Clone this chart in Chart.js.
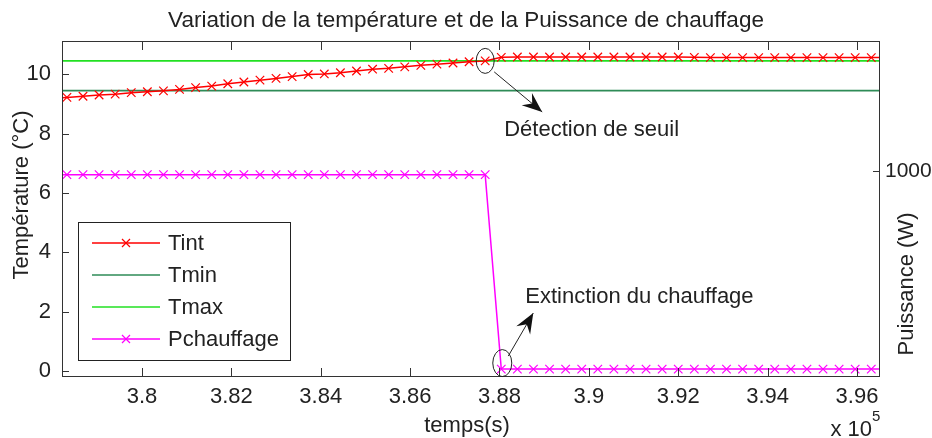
<!DOCTYPE html>
<html><head><meta charset="utf-8">
<script src="https://cdn.jsdelivr.net/npm/chart.js@4/dist/chart.umd.min.js"></script>
<style>html,body{margin:0;padding:0;background:#fff;}#wrap{width:932px;height:438px;}</style>
</head><body><div id="wrap"><canvas id="c" width="932" height="438"></canvas></div>
<script>
// ---- data (time in seconds) ----
const timeS = [377960, 378320, 378680, 379040, 379400, 379760, 380120, 380480, 380840, 381200,
  381560, 381920, 382280, 382640, 383000, 383360, 383720, 384080, 384440, 384800,
  385160, 385520, 385880, 386240, 386600, 386960, 387320, 387680, 388040, 388400,
  388760, 389120, 389480, 389840, 390200, 390560, 390920, 391280, 391640, 392000,
  392360, 392720, 393080, 393440, 393800, 394160, 394520, 394880, 395240, 395600,
  395960, 396320, 396680];
const tint = [9.19, 9.22, 9.26, 9.30, 9.33, 9.38, 9.41, 9.44, 9.49, 9.55,
  9.60, 9.68, 9.74, 9.80, 9.86, 9.92, 9.99, 10.01, 10.05, 10.11,
  10.17, 10.20, 10.25, 10.30, 10.34, 10.38, 10.42, 10.45, 10.57, 10.58,
  10.58, 10.58, 10.58, 10.58, 10.58, 10.58, 10.58, 10.58, 10.58, 10.58,
  10.57, 10.56, 10.56, 10.56, 10.56, 10.56, 10.56, 10.56, 10.56, 10.56,
  10.56, 10.56, 10.56];
const pchauffage = [980, 980, 980, 980, 980, 980, 980, 980, 980, 980,
  980, 980, 980, 980, 980, 980, 980, 980, 980, 980,
  980, 980, 980, 980, 980, 980, 980, 980, 0, 0,
  0, 0, 0, 0, 0, 0, 0, 0, 0, 0,
  0, 0, 0, 0, 0, 0, 0, 0, 0, 0,
  0, 0, 0];
const tminLevel = 9.45;
const tmaxLevel = 10.45;
const xTicks = [380000, 382000, 384000, 386000, 388000, 390000, 392000, 394000, 396000];
const yTicks = [0, 2, 4, 6, 8, 10];
const pTicks = [1000];
const seriesNames = ['Tint', 'Tmin', 'Tmax', 'Pchauffage'];
const detectIndex = 27;   // threshold detection point
const offIndex = 28;      // heating switched off

const FONT = "'Liberation Sans', Arial, Helvetica, sans-serif";
const TXT = '#222';
const colors = { tint: '#ff0000', tmin: '#2e8b57', tmax: '#22e022', p: '#ff00ff' };

const pts = (ys) => timeS.map((t, i) => ({ x: t, y: ys[i] }));
const flat = (v) => timeS.map(t => ({ x: t, y: v }));

function drawX(ctx, x, y, r) {
  ctx.beginPath();
  ctx.moveTo(x - r, y - r); ctx.lineTo(x + r, y + r);
  ctx.moveTo(x - r, y + r); ctx.lineTo(x + r, y - r);
  ctx.stroke();
}
function arrow(ctx, x1, y1, x2, y2) {
  ctx.beginPath(); ctx.moveTo(x1, y1); ctx.lineTo(x2, y2); ctx.stroke();
  const ang = Math.atan2(y2 - y1, x2 - x1);
  const L = 20, W = 8, N = 13;
  const c = Math.cos(ang), s = Math.sin(ang);
  const bx = x2 - L * c, by = y2 - L * s;
  const nx = x2 - N * c, ny = y2 - N * s;
  ctx.beginPath();
  ctx.moveTo(x2, y2);
  ctx.lineTo(bx - W * s, by + W * c);
  ctx.lineTo(nx, ny);
  ctx.lineTo(bx + W * s, by - W * c);
  ctx.closePath(); ctx.fill();
}

const overlay = {
  id: 'overlay',
  afterDraw(chart) {
    const { ctx, chartArea: a, scales } = chart;
    const sx = scales.x, sy = scales.y, sp = scales.y2;
    ctx.save();
    // axes box
    ctx.strokeStyle = '#333'; ctx.lineWidth = 1;
    ctx.strokeRect(a.left + 0.5, a.top + 0.5, a.right - a.left - 1, a.bottom - a.top - 1);
    // inward ticks
    ctx.beginPath();
    xTicks.forEach(v => {
      const px = Math.round(sx.getPixelForValue(v)) + 0.5;
      ctx.moveTo(px, a.bottom); ctx.lineTo(px, a.bottom - 9);
      ctx.moveTo(px, a.top); ctx.lineTo(px, a.top + 9);
    });
    yTicks.forEach(v => {
      const py = Math.round(sy.getPixelForValue(v)) + 0.5;
      ctx.moveTo(a.left, py); ctx.lineTo(a.left + 7, py);
    });
    pTicks.forEach(v => {
      const py = Math.round(sp.getPixelForValue(v)) + 0.5;
      ctx.moveTo(a.right, py); ctx.lineTo(a.right - 7, py);
    });
    ctx.stroke();

    // annotations
    ctx.strokeStyle = '#222'; ctx.fillStyle = '#111'; ctx.lineWidth = 1;
    const e1x = sx.getPixelForValue(timeS[detectIndex]);
    const e1y = sy.getPixelForValue(tint[detectIndex]);
    ctx.beginPath(); ctx.ellipse(e1x, e1y, 9, 12.5, 0, 0, Math.PI * 2); ctx.stroke();
    arrow(ctx, e1x + 9, e1y + 11, e1x + 57, e1y + 51);
    const e2x = sx.getPixelForValue(timeS[offIndex]) + 1;
    const e2y = sp.getPixelForValue(pchauffage[offIndex]) - 6;
    ctx.beginPath(); ctx.ellipse(e2x, e2y, 9.5, 13.5, 0, 0, Math.PI * 2); ctx.stroke();
    arrow(ctx, e2x + 6, e2y - 7, e2x + 31, e2y - 50);

    ctx.fillStyle = TXT;
    ctx.font = '22px ' + FONT;
    ctx.textAlign = 'left'; ctx.textBaseline = 'middle';
    ctx.fillText('Détection de seuil', e1x + 19, e1y + 69);
    ctx.fillText('Extinction du chauffage', e2x + 23, e2y - 66);

    // legend
    const lx = a.left + 16, lw = 212, lh = 138, ly = a.bottom - 17 - lh;
    ctx.fillStyle = '#fff'; ctx.fillRect(lx, ly, lw, lh);
    ctx.strokeStyle = '#222'; ctx.strokeRect(lx + 0.5, ly + 0.5, lw, lh);
    const lcol = [colors.tint, colors.tmin, colors.tmax, colors.p];
    const lmark = [true, false, false, true];
    seriesNames.forEach((name, i) => {
      const yy = ly + 21 + i * 32;
      ctx.strokeStyle = lcol[i]; ctx.lineWidth = 1.5;
      ctx.beginPath(); ctx.moveTo(lx + 14, yy); ctx.lineTo(lx + 82, yy); ctx.stroke();
      if (lmark[i]) { ctx.lineWidth = 1.2; drawX(ctx, lx + 48, yy, 4); }
      ctx.fillStyle = TXT; ctx.font = '22px ' + FONT;
      ctx.textAlign = 'left'; ctx.textBaseline = 'middle';
      ctx.fillText(name, lx + 90, yy + 1);
    });

    // axis titles
    ctx.fillStyle = TXT; ctx.font = '22px ' + FONT;
    ctx.textAlign = 'center'; ctx.textBaseline = 'middle';
    ctx.fillText('temps(s)', (a.left + a.right) / 2 - 4, 426);
    ctx.save(); ctx.translate(22, 195); ctx.rotate(-Math.PI / 2);
    ctx.fillText('Température (°C)', 0, 0); ctx.restore();
    ctx.save(); ctx.translate(907, 284); ctx.rotate(-Math.PI / 2);
    ctx.fillText('Puissance (W)', 0, 0); ctx.restore();
    // exponent
    ctx.textAlign = 'right';
    ctx.fillText('x 10', 872, 430);
    ctx.font = '15px ' + FONT; ctx.textAlign = 'left';
    ctx.fillText('5', 872, 417);
    ctx.restore();
  }
};

Chart.defaults.font.family = FONT;
new Chart(document.getElementById('c'), {
  type: 'line',
  data: {
    datasets: [
      { label: seriesNames[0], data: pts(tint), yAxisID: 'y', borderColor: colors.tint, backgroundColor: colors.tint,
        borderWidth: 1.5, pointStyle: 'crossRot', pointRadius: 6, pointBorderWidth: 1.2, pointBorderColor: colors.tint, tension: 0 },
      { label: seriesNames[1], data: flat(tminLevel), yAxisID: 'y', borderColor: colors.tmin, borderWidth: 1.8, pointRadius: 0 },
      { label: seriesNames[2], data: flat(tmaxLevel), yAxisID: 'y', borderColor: colors.tmax, borderWidth: 1.8, pointRadius: 0 },
      { label: seriesNames[3], data: pts(pchauffage), yAxisID: 'y2', borderColor: colors.p, backgroundColor: colors.p,
        borderWidth: 1.5, pointStyle: 'crossRot', pointRadius: 6, pointBorderWidth: 1.2, pointBorderColor: colors.p, tension: 0 }
    ]
  },
  options: {
    responsive: false, animation: false, devicePixelRatio: 1,
    layout: { padding: 0 },
    plugins: {
      legend: { display: false }, tooltip: { enabled: false },
      title: { display: true, text: 'Variation de la température et de la Puissance de chauffage',
        color: TXT, font: { size: 22.5, weight: 'normal', family: FONT }, padding: { top: 7, bottom: 7 } }
    },
    scales: {
      x: { type: 'linear', position: 'bottom', min: 378210, max: 396515,
        grid: { display: false }, border: { display: false },
        afterBuildTicks: s => { s.ticks = xTicks.map(v => ({ value: v })); },
        afterFit: s => { s.height = 61; },
        ticks: { color: TXT, font: { size: 22 }, padding: -1, autoSkip: false, maxRotation: 0,
          callback: v => String(parseFloat((v / 1e5).toFixed(2))) } },
      y: { type: 'linear', position: 'left', min: -0.2, max: 11.12,
        grid: { display: false }, border: { display: false },
        afterBuildTicks: s => { s.ticks = yTicks.map(v => ({ value: v })); },
        afterFit: s => { s.width = 62; },
        ticks: { color: TXT, font: { size: 22 }, padding: 3 } },
      y2: { type: 'linear', position: 'right', min: -40, max: 1654,
        grid: { display: false }, border: { display: false },
        afterBuildTicks: s => { s.ticks = pTicks.map(v => ({ value: v })); },
        afterFit: s => { s.width = 52; },
        ticks: { color: TXT, font: { size: 21 }, padding: -3, callback: v => String(v) } }
    }
  },
  plugins: [overlay]
});
</script></body></html>
